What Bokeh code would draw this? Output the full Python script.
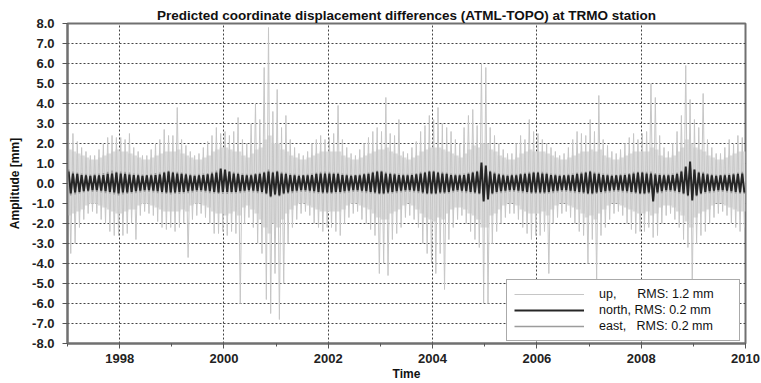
from bokeh.plotting import figure
from bokeh.models import (SingleIntervalTicker, NumeralTickFormatter, Legend,
                          LegendItem, ColumnDataSource, Range1d)
from bokeh.embed import file_html
from bokeh.resources import INLINE

# ---------------- data (monthly values, mm) ----------
start_year = 1997
end_year = 2010
title_text = "Predicted coordinate displacement differences (ATML-TOPO) at TRMO station"
x_ticks_interval = 2
y_limits = [-8, 8]

# "up" component: monthly maxima / minima of the spikes (rows = years, Jan..Dec)
up_hi = [
    2.2, 2.5, 2.1, 1.8, 1.6, 1.4, 1.4, 1.7, 2.0, 2.3, 2.4, 2.3,   # 1997
    2.3, 2.2, 2.5, 1.8, 1.6, 1.4, 1.4, 1.7, 2.0, 2.2, 2.7, 2.4,   # 1998
    2.4, 3.8, 2.2, 1.9, 1.6, 1.4, 1.5, 1.8, 2.1, 2.4, 2.8, 2.5,   # 1999
    2.6, 2.4, 2.6, 3.3, 2.2, 2.0, 3.0, 4.0, 3.2, 5.8, 7.8, 3.6,   # 2000
    4.7, 2.8, 3.4, 2.2, 1.8, 1.5, 1.4, 1.6, 2.0, 2.2, 2.4, 2.2,   # 2001
    2.3, 2.5, 3.9, 2.2, 1.8, 1.5, 1.4, 1.7, 2.0, 2.3, 2.6, 2.8,   # 2002
    2.6, 4.3, 2.5, 2.4, 3.2, 1.6, 1.5, 1.8, 2.1, 2.6, 2.9, 3.4,   # 2003
    3.2, 3.8, 3.0, 2.8, 2.6, 2.2, 2.0, 2.8, 3.4, 3.7, 2.9, 6.0,   # 2004
    5.8, 2.8, 2.4, 2.0, 1.7, 1.5, 1.5, 2.0, 2.4, 2.2, 3.2, 2.6,   # 2005
    2.5, 2.2, 2.0, 1.8, 1.6, 1.4, 1.5, 1.8, 2.2, 2.6, 2.5, 2.4,   # 2006
    3.2, 2.6, 4.4, 2.2, 1.9, 1.6, 1.5, 1.7, 2.0, 2.3, 2.5, 2.2,   # 2007
    2.5, 2.6, 5.0, 4.3, 2.4, 1.8, 1.6, 2.0, 2.6, 3.4, 5.9, 4.2,   # 2008
    3.2, 2.8, 4.5, 2.2, 1.8, 1.5, 1.5, 1.8, 2.2, 2.0, 2.4, 2.3,   # 2009
]
up_lo = [
    -3.5, -3.0, -2.2, -1.8, -1.5, -1.4, -1.5, -1.8, -2.0, -2.4, -2.6, -2.6,
    -2.6, -2.5, -2.0, -2.8, -1.6, -1.4, -1.5, -1.6, -1.9, -2.2, -2.3, -2.2,
    -2.4, -2.2, -2.0, -3.7, -1.8, -1.6, -1.5, -1.7, -2.0, -2.5, -2.5, -2.4,
    -2.6, -2.4, -2.5, -6.0, -2.0, -1.7, -2.2, -3.0, -3.5, -5.8, -6.5, -4.5,
    -6.8, -5.0, -3.0, -2.2, -1.8, -1.5, -1.4, -1.6, -2.0, -2.2, -2.4, -2.2,
    -2.2, -2.4, -2.6, -2.0, -1.7, -1.5, -1.4, -1.8, -2.0, -2.3, -2.6, -4.5,
    -4.0, -4.6, -2.8, -2.5, -2.2, -1.7, -1.6, -1.8, -2.2, -3.0, -3.5, -4.0,
    -4.5, -3.5, -5.3, -2.8, -2.2, -1.8, -1.6, -2.0, -2.4, -2.8, -3.2, -6.0,
    -6.0, -3.0, -2.4, -2.0, -1.7, -1.5, -1.5, -1.8, -2.2, -2.5, -2.8, -2.6,
    -2.6, -2.4, -4.5, -2.0, -1.7, -1.5, -1.4, -1.7, -2.0, -2.4, -2.6, -4.0,
    -2.8, -4.8, -2.6, -2.2, -1.8, -1.5, -1.4, -1.6, -2.0, -2.3, -2.5, -2.4,
    -2.4, -2.2, -2.7, -2.6, -2.0, -1.6, -1.5, -1.8, -2.2, -2.8, -3.2, -5.2,
    -3.0, -2.6, -2.4, -2.0, -1.7, -1.5, -1.4, -1.6, -2.0, -2.2, -2.4, -2.2,
]
# "up" component: dense core of the band (monthly upper / lower limit)
up_core_hi = [
    1.7, 1.6, 1.5, 1.4, 1.3, 1.2, 1.2, 1.3, 1.4, 1.5, 1.6, 1.7,
    1.6, 1.6, 1.5, 1.4, 1.3, 1.2, 1.2, 1.3, 1.4, 1.5, 1.6, 1.6,
    1.6, 1.7, 1.5, 1.4, 1.3, 1.2, 1.2, 1.3, 1.4, 1.6, 1.7, 1.8,
    1.8, 1.7, 1.6, 1.6, 1.4, 1.3, 1.5, 1.7, 1.8, 2.2, 2.4, 2.0,
    2.0, 1.7, 1.6, 1.4, 1.3, 1.2, 1.2, 1.3, 1.4, 1.5, 1.6, 1.6,
    1.6, 1.6, 1.6, 1.4, 1.3, 1.2, 1.2, 1.3, 1.4, 1.5, 1.6, 1.7,
    1.7, 1.8, 1.6, 1.5, 1.4, 1.3, 1.2, 1.3, 1.4, 1.6, 1.7, 1.8,
    1.8, 1.8, 1.7, 1.6, 1.5, 1.4, 1.3, 1.5, 1.7, 1.9, 1.8, 2.0,
    2.0, 1.7, 1.6, 1.4, 1.3, 1.2, 1.2, 1.3, 1.5, 1.6, 1.7, 1.6,
    1.6, 1.6, 1.5, 1.4, 1.3, 1.2, 1.2, 1.3, 1.4, 1.5, 1.6, 1.6,
    1.7, 1.6, 1.7, 1.4, 1.3, 1.2, 1.2, 1.3, 1.4, 1.5, 1.6, 1.6,
    1.6, 1.6, 1.8, 1.7, 1.4, 1.3, 1.3, 1.4, 1.6, 1.8, 2.2, 2.0,
    1.8, 1.7, 1.6, 1.4, 1.3, 1.2, 1.2, 1.3, 1.4, 1.5, 1.6, 1.6,
]
up_core_lo = [
    -1.6, -1.5, -1.4, -1.3, -1.1, -1.0, -1.0, -1.1, -1.2, -1.3, -1.4, -1.5,
    -1.5, -1.4, -1.3, -1.3, -1.1, -1.0, -1.0, -1.1, -1.2, -1.3, -1.4, -1.4,
    -1.4, -1.4, -1.3, -1.4, -1.1, -1.0, -1.0, -1.1, -1.2, -1.4, -1.5, -1.5,
    -1.6, -1.5, -1.4, -1.6, -1.2, -1.1, -1.3, -1.5, -1.8, -2.2, -2.5, -2.0,
    -2.2, -1.8, -1.5, -1.3, -1.1, -1.0, -1.0, -1.1, -1.2, -1.3, -1.4, -1.4,
    -1.4, -1.4, -1.4, -1.3, -1.1, -1.0, -1.0, -1.1, -1.2, -1.3, -1.5, -1.7,
    -1.8, -1.8, -1.5, -1.4, -1.3, -1.1, -1.0, -1.1, -1.3, -1.5, -1.7, -1.8,
    -1.9, -1.7, -1.8, -1.5, -1.3, -1.2, -1.2, -1.3, -1.5, -1.6, -1.8, -2.2,
    -2.2, -1.6, -1.5, -1.3, -1.1, -1.0, -1.0, -1.1, -1.3, -1.4, -1.5, -1.5,
    -1.5, -1.4, -1.6, -1.3, -1.1, -1.0, -1.0, -1.1, -1.2, -1.3, -1.5, -1.7,
    -1.6, -1.8, -1.5, -1.3, -1.1, -1.0, -1.0, -1.1, -1.2, -1.3, -1.4, -1.5,
    -1.5, -1.4, -1.6, -1.5, -1.2, -1.1, -1.1, -1.2, -1.4, -1.6, -1.9, -2.2,
    -1.7, -1.5, -1.4, -1.3, -1.1, -1.0, -1.0, -1.1, -1.2, -1.3, -1.4, -1.4,
]

# "north" component (monthly maxima / minima)
north_hi = [
    0.6, 0.5, 0.48, 0.42, 0.4, 0.38, 0.4, 0.4, 0.42, 0.48, 0.5, 0.55,
    0.5, 0.48, 0.45, 0.42, 0.4, 0.38, 0.4, 0.4, 0.42, 0.45, 0.55, 0.6,
    0.55, 0.5, 0.48, 0.45, 0.4, 0.38, 0.4, 0.42, 0.45, 0.5, 0.55, 0.75,
    0.7, 0.6, 0.5, 0.48, 0.42, 0.4, 0.4, 0.45, 0.48, 0.55, 0.6, 0.55,
    0.6, 0.5, 0.48, 0.42, 0.4, 0.38, 0.4, 0.4, 0.42, 0.48, 0.5, 0.5,
    0.5, 0.48, 0.48, 0.42, 0.4, 0.38, 0.4, 0.4, 0.45, 0.48, 0.55, 0.6,
    0.6, 0.5, 0.48, 0.45, 0.42, 0.4, 0.4, 0.42, 0.45, 0.5, 0.55, 0.6,
    0.6, 0.55, 0.5, 0.48, 0.42, 0.4, 0.4, 0.42, 0.48, 0.55, 0.6, 1.05,
    0.9, 0.6, 0.5, 0.45, 0.4, 0.38, 0.4, 0.4, 0.45, 0.48, 0.5, 0.55,
    0.55, 0.5, 0.48, 0.42, 0.4, 0.38, 0.4, 0.4, 0.42, 0.48, 0.5, 0.55,
    0.6, 0.5, 0.48, 0.42, 0.4, 0.38, 0.4, 0.4, 0.42, 0.45, 0.5, 0.55,
    0.55, 0.5, 0.5, 0.45, 0.42, 0.4, 0.4, 0.42, 0.48, 0.6, 0.85, 1.1,
    0.7, 0.55, 0.5, 0.45, 0.4, 0.38, 0.4, 0.4, 0.42, 0.45, 0.48, 0.5,
]
north_lo = [
    -0.5, -0.45, -0.42, -0.38, -0.35, -0.33, -0.33, -0.35, -0.38, -0.42, -0.45, -0.5,
    -0.45, -0.45, -0.42, -0.38, -0.35, -0.33, -0.33, -0.35, -0.38, -0.42, -0.45, -0.45,
    -0.45, -0.42, -0.42, -0.38, -0.35, -0.33, -0.33, -0.35, -0.38, -0.42, -0.45, -0.42,
    -0.42, -0.42, -0.42, -0.38, -0.35, -0.33, -0.35, -0.38, -0.42, -0.5, -0.65, -0.55,
    -0.6, -0.5, -0.45, -0.38, -0.35, -0.33, -0.33, -0.35, -0.38, -0.42, -0.45, -0.45,
    -0.45, -0.42, -0.42, -0.38, -0.35, -0.33, -0.33, -0.35, -0.38, -0.42, -0.45, -0.5,
    -0.5, -0.45, -0.42, -0.38, -0.35, -0.33, -0.33, -0.35, -0.38, -0.45, -0.5, -0.5,
    -0.5, -0.45, -0.45, -0.42, -0.35, -0.33, -0.35, -0.38, -0.42, -0.45, -0.5, -0.9,
    -0.8, -0.5, -0.42, -0.38, -0.35, -0.33, -0.33, -0.35, -0.38, -0.42, -0.45, -0.45,
    -0.45, -0.45, -0.42, -0.38, -0.35, -0.33, -0.33, -0.35, -0.38, -0.42, -0.45, -0.5,
    -0.5, -0.45, -0.42, -0.38, -0.35, -0.33, -0.33, -0.35, -0.38, -0.42, -0.45, -0.5,
    -0.5, -0.45, -0.9, -0.45, -0.38, -0.33, -0.33, -0.35, -0.42, -0.5, -0.6, -0.85,
    -0.6, -0.5, -0.42, -0.38, -0.35, -0.33, -0.33, -0.35, -0.38, -0.42, -0.45, -0.45,
]

# "east" component (monthly maxima / minima)
east_hi = [
    0.7, 0.6, 0.55, 0.5, 0.48, 0.45, 0.48, 0.5, 0.52, 0.58, 0.65, 0.6,
    0.6, 0.58, 0.55, 0.5, 0.48, 0.45, 0.45, 0.48, 0.52, 0.55, 0.6, 0.65,
    0.6, 0.58, 0.55, 0.52, 0.48, 0.45, 0.48, 0.5, 0.52, 0.58, 0.65, 0.7,
    0.65, 0.6, 0.58, 0.55, 0.5, 0.48, 0.48, 0.52, 0.55, 0.6, 0.7, 0.6,
    0.65, 0.58, 0.55, 0.5, 0.48, 0.45, 0.45, 0.48, 0.5, 0.55, 0.58, 0.6,
    0.58, 0.55, 0.55, 0.5, 0.48, 0.45, 0.45, 0.48, 0.52, 0.55, 0.6, 0.65,
    0.65, 0.58, 0.55, 0.52, 0.5, 0.48, 0.48, 0.5, 0.52, 0.58, 0.6, 0.65,
    0.65, 0.6, 0.58, 0.55, 0.5, 0.48, 0.48, 0.5, 0.55, 0.6, 0.65, 0.9,
    0.8, 0.65, 0.58, 0.52, 0.48, 0.45, 0.48, 0.48, 0.52, 0.55, 0.58, 0.6,
    0.6, 0.58, 0.55, 0.5, 0.48, 0.45, 0.45, 0.48, 0.5, 0.55, 0.58, 0.6,
    0.65, 0.58, 0.55, 0.5, 0.48, 0.45, 0.45, 0.48, 0.5, 0.52, 0.58, 0.6,
    0.6, 0.58, 0.6, 0.52, 0.5, 0.48, 0.48, 0.5, 0.55, 0.65, 0.8, 0.9,
    0.7, 0.6, 0.58, 0.52, 0.48, 0.45, 0.45, 0.48, 0.5, 0.52, 0.55, 0.58,
]
east_lo = [
    -0.6, -0.55, -0.5, -0.45, -0.42, -0.42, -0.42, -0.45, -0.48, -0.5, -0.55, -0.6,
    -0.55, -0.52, -0.5, -0.48, -0.45, -0.42, -0.42, -0.45, -0.48, -0.5, -0.52, -0.55,
    -0.52, -0.52, -0.5, -0.48, -0.45, -0.42, -0.42, -0.45, -0.48, -0.5, -0.52, -0.52,
    -0.52, -0.5, -0.5, -0.48, -0.45, -0.42, -0.45, -0.48, -0.5, -0.55, -0.7, -0.6,
    -0.65, -0.55, -0.52, -0.48, -0.45, -0.42, -0.42, -0.45, -0.48, -0.5, -0.52, -0.52,
    -0.52, -0.5, -0.5, -0.48, -0.45, -0.42, -0.42, -0.45, -0.48, -0.5, -0.52, -0.55,
    -0.55, -0.52, -0.5, -0.48, -0.45, -0.42, -0.42, -0.45, -0.48, -0.52, -0.55, -0.55,
    -0.55, -0.52, -0.52, -0.5, -0.45, -0.42, -0.45, -0.48, -0.5, -0.52, -0.55, -0.85,
    -0.75, -0.55, -0.5, -0.48, -0.45, -0.42, -0.42, -0.45, -0.48, -0.5, -0.52, -0.52,
    -0.52, -0.52, -0.5, -0.48, -0.45, -0.42, -0.42, -0.45, -0.48, -0.5, -0.52, -0.55,
    -0.55, -0.52, -0.5, -0.48, -0.45, -0.42, -0.42, -0.45, -0.48, -0.5, -0.52, -0.55,
    -0.55, -0.52, -0.75, -0.52, -0.48, -0.42, -0.42, -0.45, -0.5, -0.55, -0.65, -0.8,
    -0.65, -0.55, -0.5, -0.48, -0.45, -0.42, -0.42, -0.45, -0.48, -0.5, -0.52, -0.52,
]

legend_labels = ["up,\u00a0\u00a0\u00a0\u00a0\u00a0\u00a0RMS: 1.2 mm",
                 "north, RMS: 0.2 mm",
                 "east,\u00a0\u00a0\u00a0RMS: 0.2 mm"]
colors = {"up": "#c6c6c6", "up_core": "#dcdcdc", "north": "#262626", "east": "#9c9c9c"}


def zigzag(hi, lo):
    xs, ys = [], []
    for i, (h, l) in enumerate(zip(hi, lo)):
        xs += [start_year + (i + 0.25) / 12.0, start_year + (i + 0.75) / 12.0]
        ys += [h, l]
    return ColumnDataSource(dict(x=xs, y=ys))


def steps(hi, lo):
    xs, y1, y2 = [], [], []
    for i, (h, l) in enumerate(zip(hi, lo)):
        xs += [start_year + i / 12.0, start_year + (i + 1) / 12.0]
        y1 += [l, l]
        y2 += [h, h]
    return ColumnDataSource(dict(x=xs, y1=y1, y2=y2))


FONT = "Liberation Sans"

p = figure(width=761, height=383, output_backend="svg", toolbar_location=None,
           x_range=Range1d(start_year, end_year), y_range=Range1d(*y_limits),
           title=title_text, min_border_left=67, min_border_right=16,
           min_border_top=23, min_border_bottom=39)
p.background_fill_color = "white"
p.border_fill_color = "white"
p.outline_line_color = "#707070"
p.outline_line_width = 2

p.title.align = "center"
p.title.text_font = FONT
p.title.text_font_size = "13.5px"
p.title.text_font_style = "bold"
p.title.text_color = "#111111"
p.title.standoff = 2
p.title.offset = 0

p.varea("x", "y1", "y2", source=steps(up_core_hi, up_core_lo),
        fill_color=colors["up_core"], fill_alpha=1)
r_up = p.line("x", "y", source=zigzag(up_hi, up_lo), color=colors["up"], line_width=1)
r_east = p.line("x", "y", source=zigzag(east_hi, east_lo), color=colors["east"], line_width=1.6)
r_north = p.line("x", "y", source=zigzag(north_hi, north_lo), color=colors["north"], line_width=2)

p.xaxis.ticker = SingleIntervalTicker(interval=x_ticks_interval, num_minor_ticks=2)
p.yaxis.ticker = SingleIntervalTicker(interval=1, num_minor_ticks=0)
p.yaxis.formatter = NumeralTickFormatter(format="0.0")
p.xaxis.axis_label = "Time"
p.yaxis.axis_label = "Amplitude [mm]"

for ax in (p.xaxis[0], p.yaxis[0]):
    ax.axis_line_color = "#707070"
    ax.axis_line_width = 2
    ax.major_tick_line_color = "#555555"
    ax.minor_tick_line_color = "#555555"
    ax.major_tick_in = 0
    ax.major_tick_out = 5
    ax.minor_tick_in = 0
    ax.minor_tick_out = 3
    ax.major_label_text_font = FONT
    ax.major_label_text_font_size = "13px"
    ax.major_label_text_font_style = "bold"
    ax.major_label_text_color = "#222222"
    ax.axis_label_text_font = FONT
    ax.axis_label_text_font_size = "12px"
    ax.axis_label_text_font_style = "bold"
    ax.axis_label_text_color = "#111111"
p.xaxis.major_label_standoff = 5
p.xaxis.axis_label_standoff = 1
p.yaxis.major_label_standoff = 8
p.yaxis.axis_label_standoff = 7

p.xgrid.grid_line_color = "#444444"
p.ygrid.grid_line_color = "#444444"
p.xgrid.grid_line_dash = "2 2"
p.ygrid.grid_line_dash = "2 2"
p.xgrid.grid_line_width = 1
p.ygrid.grid_line_width = 1

legend = Legend(items=[LegendItem(label=legend_labels[0], renderers=[r_up]),
                       LegendItem(label=legend_labels[1], renderers=[r_north]),
                       LegendItem(label=legend_labels[2], renderers=[r_east])],
                location=(439, 2))
legend.border_line_color = "#555555"
legend.border_line_width = 1.5
legend.background_fill_color = "white"
legend.background_fill_alpha = 1
legend.label_text_font = FONT
legend.label_text_font_size = "12.5px"
legend.label_text_color = "#111111"
legend.glyph_width = 70
legend.glyph_height = 14
legend.label_standoff = 15
legend.label_width = 133
legend.spacing = 2
legend.padding = 7
legend.margin = 0
p.add_layout(legend)

open("out.html", "w").write(file_html(p, INLINE))
